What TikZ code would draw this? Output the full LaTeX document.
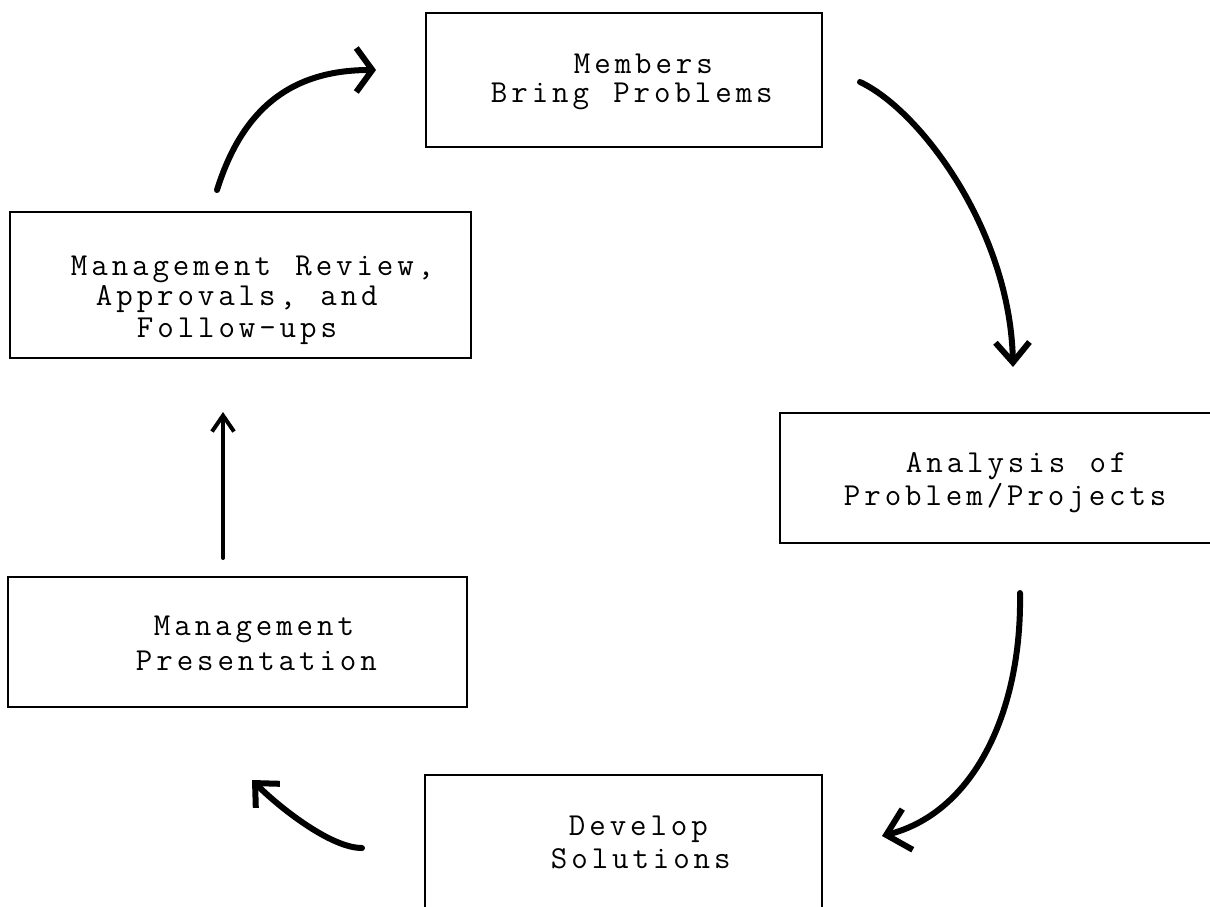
\documentclass[tikz,border=0pt]{standalone}
\usepackage{fontspec}
\usetikzlibrary{arrows.meta}
\ExplSyntaxOn
\NewDocumentCommand\twline{m}{\str_map_inline:nn{#1}{\makebox[10.2pt][c]{##1}}}
\ExplSyntaxOff
\begin{document}
\begin{tikzpicture}[x=0.5pt,y=-0.5pt,
  box/.style={draw, line width=1.4pt, anchor=north west, inner sep=0pt, outer sep=0pt},
  txt/.style={anchor=base west, inner sep=0pt, outer sep=0pt, font=\ttfamily\fontsize{16pt}{18pt}\selectfont},
  curvy/.style={line width=3pt, line cap=round, line join=round},
  straight/.style={line width=2pt, line cap=round, line join=round}
]
\useasboundingbox (0,0) rectangle (1210,906);
\clip (0,0) rectangle (1210,906);

% boxes
\node[box, minimum width=198pt, minimum height=67pt] (members) at (426,13) {};
\node[box, minimum width=230.5pt, minimum height=73pt] (review) at (10,212) {};
\node[box, minimum width=225pt, minimum height=65pt] (analysis) at (780,413) {};
\node[box, minimum width=229.5pt, minimum height=65pt] (present) at (8,577) {};
\node[box, minimum width=198.5pt, minimum height=75pt] (develop) at (425,775) {};

% texts
\node[txt] (m1) at (572,73) {\twline{Members}};
\node[txt] (m2) at (489,102) {\twline{Bring Problems}};
\node[txt] (r1) at (69,275) {\twline{Management Review,}};
\node[txt] (r2) at (94,305) {\twline{Approvals, and}};
\node[txt] (r3) at (135,337) {\twline{Follow-ups}};
\node[txt] (an1) at (904,472) {\twline{Analysis of}};
\node[txt] (an2) at (842,505) {\twline{Problem/Projects}};
\node[txt] (p1) at (152,635) {\twline{Management}};
\node[txt] (p2) at (134,670) {\twline{Presentation}};
\node[txt] (d1) at (567,835) {\twline{Develop}};
\node[txt] (d2) at (549,868) {\twline{Solutions}};

% arrow ends
\coordinate (a1s) at (217,190); \coordinate (a1e) at (376,70);
\coordinate (a2s) at (860,82);  \coordinate (a2e) at (1013,367);
\coordinate (a3s) at (1020,593); \coordinate (a3e) at (882,836);
\coordinate (a4s) at (362,848); \coordinate (a4e) at (252,780);
\coordinate (a5s) at (223,558); \coordinate (a5e) at (223,412);

\draw[curvy, -{Straight Barb[length=8pt,width=22pt]}] (a1s) .. controls (242,110) and (290,70) .. (a1e);
\draw[curvy, -{Straight Barb[length=10pt,width=17pt]}] (a2s) .. controls (920,110) and (1010,230) .. (a2e);
\draw[curvy, -{Straight Barb[length=11pt,width=21pt]}] (a3s) .. controls (1022,710) and (975,812) .. (a3e);
\draw[curvy, -{Straight Barb[length=9pt,width=17pt]}] (a4s) .. controls (330,848) and (278,806) .. (a4e);
\draw[straight, -{Straight Barb[length=8pt,width=11pt]}] (a5s) -- (a5e);
\end{tikzpicture}
\end{document}
